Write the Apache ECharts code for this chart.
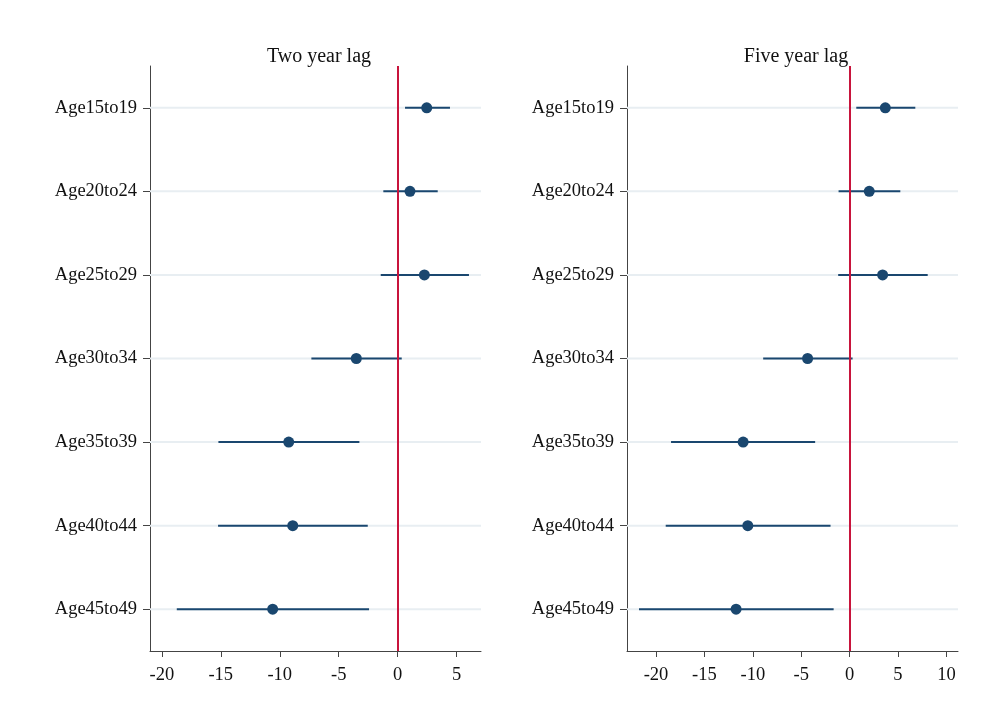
<!DOCTYPE html>
<html>
<head>
<meta charset="utf-8">
<script src="https://cdn.jsdelivr.net/npm/echarts@6/dist/echarts.min.js"></script>
<style>
html,body{margin:0;padding:0;background:#fff;}
#main{width:981px;height:720px;}
</style>
</head>
<body>
<div id="main"></div>
<script>
const categories = ['Age15to19','Age20to24','Age25to29','Age30to34','Age35to39','Age40to44','Age45to49'];
const twoEst = [2.46, 1.04, 2.26, -3.51, -9.24, -8.9, -10.6];
const twoLo  = [0.62, -1.22, -1.44, -7.32, -15.2, -15.23, -18.73];
const twoHi  = [4.43, 3.39, 6.04, 0.34, -3.25, -2.54, -2.43];
const fiveEst = [3.69, 2.03, 3.41, -4.34, -11.0, -10.52, -11.73];
const fiveLo  = [0.69, -1.14, -1.18, -8.93, -18.45, -19.0, -21.76];
const fiveHi  = [6.79, 5.24, 8.07, 0.31, -3.56, -1.97, -1.65];
const twoTicks = [-20, -15, -10, -5, 0, 5];
const fiveTicks = [-20, -15, -10, -5, 0, 5, 10];
const twoRange = [-21, 7.06];
const fiveRange = [-23, 11.2];
const titles = ['Two year lag', 'Five year lag'];

const FONT = '"Liberation Serif", "Times New Roman", serif';
const NAVY = '#1a476f';
const RED = '#c8143c';

const chart = echarts.init(document.getElementById('main'), null, {renderer: 'canvas'});

function xAxisCfg(idx, range, ticks) {
  return {
    type: 'value', gridIndex: idx, min: range[0], max: range[1],
    axisLine: {show: true, onZero: false, lineStyle: {color: '#444', width: 1}},
    axisTick: {show: true, length: 6, customValues: ticks, lineStyle: {color: '#444'}},
    axisLabel: {customValues: ticks, color: '#111', fontFamily: FONT, fontSize: 18.5, margin: 15},
    splitLine: {show: false}
  };
}
function yAxisCfg(idx) {
  return {
    type: 'category', gridIndex: idx, data: categories, inverse: true, boundaryGap: true,
    axisLine: {show: true, onZero: false, lineStyle: {color: '#444', width: 1}},
    axisTick: {show: true, length: 7, alignWithLabel: true, lineStyle: {color: '#444'}},
    axisLabel: {color: '#111', fontFamily: FONT, fontSize: 18.5, margin: 13},
    splitLine: {show: false}
  };
}

function gridSeries(idx) {
  return {
    type: 'custom', xAxisIndex: idx, yAxisIndex: idx, z: 1, silent: true,
    data: categories.map((c, i) => [0, i]),
    renderItem: function (params, api) {
      const p = api.coord([0, api.value(1)]);
      const cs = params.coordSys;
      return {type: 'line', shape: {x1: cs.x, y1: p[1], x2: cs.x + cs.width, y2: p[1]},
        style: {stroke: '#e8eef2', lineWidth: 2}};
    },
    markLine: {
      silent: true, symbol: ['none', 'none'], label: {show: false},
      lineStyle: {color: RED, width: 2, type: 'solid'},
      data: [{xAxis: 0}]
    }
  };
}
function ciSeries(idx, lo, hi) {
  return {
    type: 'custom', xAxisIndex: idx, yAxisIndex: idx, z: 3, silent: true,
    data: categories.map((c, i) => [lo[i], hi[i], i]),
    encode: {x: [0, 1], y: 2},
    renderItem: function (params, api) {
      const a = api.coord([api.value(0), api.value(2)]);
      const b = api.coord([api.value(1), api.value(2)]);
      return {type: 'line', shape: {x1: a[0], y1: a[1], x2: b[0], y2: b[1]},
        style: {stroke: NAVY, lineWidth: 2}};
    }
  };
}
function pointSeries(idx, est) {
  return {
    type: 'scatter', xAxisIndex: idx, yAxisIndex: idx, z: 4, silent: true,
    symbol: 'circle', symbolSize: 11,
    itemStyle: {color: NAVY, opacity: 1},
    data: categories.map((c, i) => [est[i], i])
  };
}

chart.setOption({
  backgroundColor: '#fff',
  animation: false,
  title: [
    {text: titles[0], left: 314, top: 42, textAlign: 'center',
     textStyle: {fontFamily: FONT, fontSize: 20, fontWeight: 'normal', color: '#111'}},
    {text: titles[1], left: 791, top: 42, textAlign: 'center',
     textStyle: {fontFamily: FONT, fontSize: 20, fontWeight: 'normal', color: '#111'}}
  ],
  grid: [
    {left: 150, right: 500, top: 66, bottom: 69},
    {left: 627, right: 23, top: 66, bottom: 69}
  ],
  xAxis: [xAxisCfg(0, twoRange, twoTicks), xAxisCfg(1, fiveRange, fiveTicks)],
  yAxis: [yAxisCfg(0), yAxisCfg(1)],
  series: [
    gridSeries(0), ciSeries(0, twoLo, twoHi), pointSeries(0, twoEst),
    gridSeries(1), ciSeries(1, fiveLo, fiveHi), pointSeries(1, fiveEst)
  ]
});
</script>
</body>
</html>
